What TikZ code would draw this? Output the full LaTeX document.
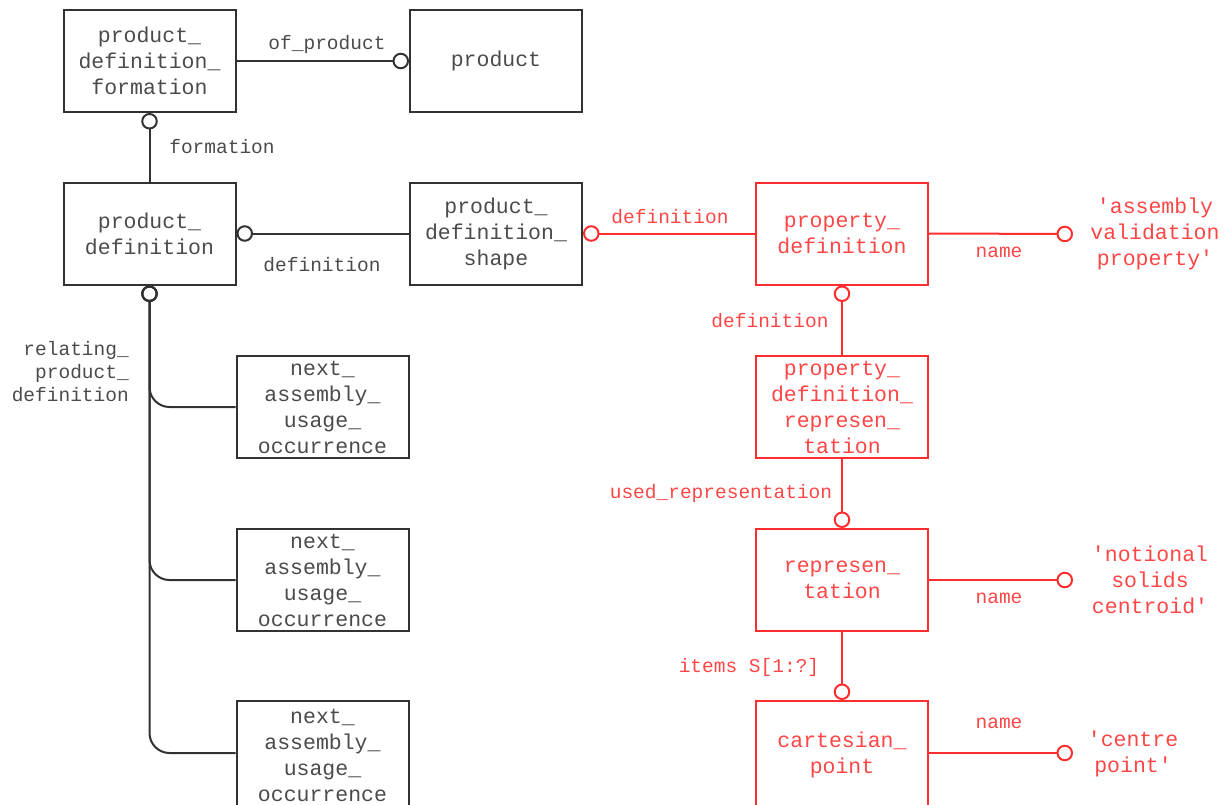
\documentclass[tikz,border=0pt]{standalone}
\usepackage{fontspec}
\setmainfont{Liberation Mono}
\usetikzlibrary{arrows.meta}
\definecolor{ered}{RGB}{255,45,45}
\definecolor{eredtext}{RGB}{255,70,70}
\definecolor{eline}{RGB}{50,50,50}
\definecolor{etext}{RGB}{75,75,75}
\begin{document}
\begin{tikzpicture}[x=1pt,y=-1pt,
  ent/.style={draw=eline,line width=2pt,minimum width=172pt,minimum height=102pt,inner sep=0pt,align=center,text=etext,font=\fontsize{21.5pt}{26pt}\selectfont},
  rent/.style={ent,draw=ered,text=eredtext},
  lbl/.style={text=etext,font=\fontsize{19.5pt}{23pt}\selectfont,inner sep=0pt},
  rlbl/.style={lbl,text=eredtext},
  val/.style={text=eredtext,align=center,font=\fontsize{21.5pt}{26pt}\selectfont,inner sep=0pt},
  link/.style={draw=eline,line width=2pt},
  rlink/.style={link,draw=ered},
  endc/.style={-{Circle[open,length=16.5pt,width=16.5pt]}},
  startc/.style={{Circle[open,length=16.5pt,width=16.5pt]}-}
]
\useasboundingbox (0,0) rectangle (1227,804);

% entities
\node[ent] (pdf) at (149.5,61) {product\_\\definition\_\\formation};
\node[ent] (prod) at (496,61) {product};
\node[ent] (pd) at (149.5,233.5) {product\_\\definition};
\node[ent] (pds) at (496,233.5) {product\_\\definition\_\\shape};
\node[ent] (nauo1) at (322.5,407) {next\_\\assembly\_\\usage\_\\occurrence};
\node[ent] (nauo2) at (322.5,580) {next\_\\assembly\_\\usage\_\\occurrence};
\node[ent,minimum height=108pt] (nauo3) at (322.5,755) {next\_\\assembly\_\\usage\_\\occurrence};
\node[rent] (propdef) at (842,233.5) {property\_\\definition};
\node[rent] (pdr) at (842,407) {property\_\\definition\_\\represen\_\\tation};
\node[rent] (rep) at (842,580) {represen\_\\tation};
\node[rent,minimum height=108pt] (cp) at (842,755) {cartesian\_\\point};

% values
\node[val] (q1) at (1155,234) {\textquotesingle assembly\\validation\\property\textquotesingle};
\node[val] (q2) at (1150,580) {\textquotesingle notional\\solids\\centroid\textquotesingle};
\node[val] (q3) at (1133,754) {\textquotesingle centre\\point\textquotesingle};
\coordinate (n1) at (1073,234);
\coordinate (n2) at (1073,580);
\coordinate (n3) at (1073,753);

% black connectors
\draw[link,endc] (pdf.east) -- (prod.west);
\draw[link,startc] (pdf.south) -- (pd.north);
\draw[link,startc] (pd.east) -- (pds.west);
\draw[link,startc,rounded corners=20pt] (pd.south) |- (nauo1.west);
\draw[link,startc,rounded corners=20pt] (pd.south) |- (nauo2.west);
\draw[link,startc,rounded corners=20pt] (pd.south) |- ([yshift=2pt]nauo3.west);

% red connectors
\draw[rlink,startc] (pds.east) -- (propdef.west);
\draw[rlink,endc] (propdef.east) -- (n1);
\draw[rlink,startc] (propdef.south) -- (pdr.north);
\draw[rlink,endc] (pdr.south) -- (rep.north);
\draw[rlink,endc] (rep.east) -- (n2);
\draw[rlink,endc] (rep.south) -- (cp.north);
\draw[rlink,endc] ([yshift=2pt]cp.east) -- (n3);

% labels
\node[lbl] (lofp) at (327,44) {of\_product};
\node[lbl] (lform) at (222,147) {formation};
\node[lbl] (ldef) at (322,265) {definition};
\node[lbl,align=right,anchor=east] (lrel) at (129,372) {relating\_\\product\_\\definition};
\node[rlbl] (ldef2) at (670,217) {definition};
\node[rlbl] (lname1) at (999,252) {name};
\node[rlbl] (ldef3) at (770,321) {definition};
\node[rlbl] (lused) at (721,493) {used\_representation};
\node[rlbl] (lname2) at (999,598) {name};
\node[rlbl] (litems) at (749,667) {items S[1:?]};
\node[rlbl] (lname3) at (999,723) {name};
\end{tikzpicture}
\end{document}
